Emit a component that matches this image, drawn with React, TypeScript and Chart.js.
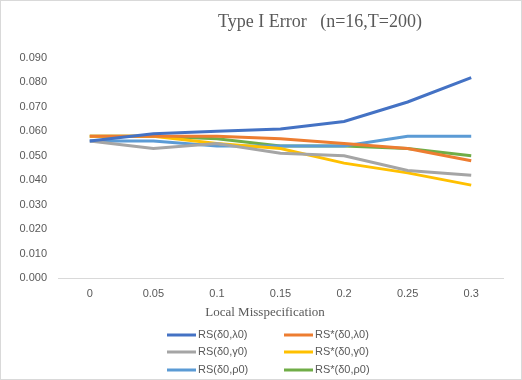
import React, { useEffect, useRef } from "react";
import { Chart, registerables } from "chart.js";

Chart.register(...registerables);

const chartTitle = "Type I Error   (n=16,T=200)";
const xAxisTitle = "Local Misspecification";
const categories = ["0", "0.05", "0.1", "0.15", "0.2", "0.25", "0.3"];
const yMin = 0;
const yMax = 0.09;
const yStep = 0.01;

const rsDeltaLambda = [0.056, 0.059, 0.060, 0.061, 0.064, 0.072, 0.082];
const rsStarDeltaLambda = [0.058, 0.058, 0.058, 0.057, 0.055, 0.053, 0.048];
const rsDeltaGamma = [0.056, 0.053, 0.055, 0.051, 0.050, 0.044, 0.042];
const rsStarDeltaGamma = [0.058, 0.058, 0.055, 0.053, 0.047, 0.043, 0.038];
const rsDeltaRho = [0.056, 0.056, 0.054, 0.054, 0.054, 0.058, 0.058];
const rsStarDeltaRho = [0.058, 0.058, 0.057, 0.054, 0.054, 0.053, 0.050];

const seriesLabels = [
  "RS(δ0,λ0)",
  "RS*(δ0,λ0)",
  "RS(δ0,γ0)",
  "RS*(δ0,γ0)",
  "RS(δ0,ρ0)",
  "RS*(δ0,ρ0)",
];
const seriesValues = [
  rsDeltaLambda,
  rsStarDeltaLambda,
  rsDeltaGamma,
  rsStarDeltaGamma,
  rsDeltaRho,
  rsStarDeltaRho,
];
const seriesColors = ["#4472C4", "#ED7D31", "#A5A5A5", "#FFC000", "#5B9BD5", "#70AD47"];

const W = 522;
const H = 380;
const TEXT = "#595959";
const SANS = "'Liberation Sans', Arial, sans-serif";
const SERIF = "'Liberation Serif', 'Times New Roman', serif";

const decorPlugin = {
  id: "decor",
  beforeDraw(chart: any) {
    const ctx = chart.ctx;
    ctx.save();
    ctx.fillStyle = "#ffffff";
    ctx.fillRect(0, 0, W, H);
    ctx.restore();
  },
  afterDraw(chart: any) {
    const ctx = chart.ctx;
    ctx.save();
    // border
    ctx.strokeStyle = "#d9d9d9";
    ctx.lineWidth = 1;
    ctx.strokeRect(0.5, 0.5, W - 1, H - 1);
    // title
    ctx.fillStyle = TEXT;
    ctx.textAlign = "center";
    ctx.textBaseline = "middle";
    ctx.font = `18px ${SERIF}`;
    ctx.fillText(chartTitle, 320, 22);
    // x axis title
    ctx.font = `13px ${SERIF}`;
    ctx.fillText(xAxisTitle, 265, 313);
    // legend
    ctx.font = `11px ${SANS}`;
    ctx.textAlign = "left";
    const colX = [167, 284];
    const rowY = [335, 352, 370];
    chart.data.datasets.forEach((ds: any, i: number) => {
      const x = colX[i % 2];
      const y = rowY[Math.floor(i / 2)];
      ctx.strokeStyle = ds.borderColor;
      ctx.lineWidth = 3;
      ctx.beginPath();
      ctx.moveTo(x, y);
      ctx.lineTo(x + 29, y);
      ctx.stroke();
      ctx.fillStyle = TEXT;
      ctx.fillText(ds.label, x + 31, y);
    });
    ctx.restore();
  },
};

export default function App() {
  const canvasRef = useRef<HTMLCanvasElement | null>(null);

  useEffect(() => {
    document.body.style.margin = "0";
    const canvas = canvasRef.current;
    if (!canvas) return;
    const chart = new Chart(canvas, {
      type: "line",
      data: {
        labels: categories,
        datasets: seriesValues.map((vals, i) => ({
          label: seriesLabels[i],
          data: vals,
          borderColor: seriesColors[i],
          backgroundColor: seriesColors[i],
          borderWidth: 3,
          pointRadius: 0,
          tension: 0,
          fill: false,
        })),
      },
      options: {
        responsive: false,
        animation: false,
        devicePixelRatio: 1,
        layout: { padding: { top: 58, right: 19, left: 0, bottom: 0 } },
        plugins: {
          legend: { display: false },
          title: { display: false },
          tooltip: { enabled: false },
        },
        scales: {
          x: {
            type: "category",
            offset: true,
            grid: { display: false, drawTicks: false },
            border: { display: true, color: "#d9d9d9", width: 1 },
            ticks: {
              color: TEXT,
              font: { family: SANS, size: 11 },
              padding: 9,
              maxRotation: 0,
              autoSkip: false,
            },
            afterFit: (scale: any) => {
              scale.height = 102;
            },
          },
          y: {
            min: yMin,
            max: yMax,
            grid: { display: false, drawTicks: false },
            border: { display: false },
            ticks: {
              stepSize: yStep,
              color: TEXT,
              font: { family: SANS, size: 11 },
              padding: 11,
              callback: (v: any) => Number(v).toFixed(3),
            },
            afterFit: (scale: any) => {
              scale.width = 58;
            },
          },
        },
      },
      plugins: [decorPlugin],
    });
    return () => chart.destroy();
  }, []);

  return (
    <div style={{ width: W, height: H }}>
      <canvas ref={canvasRef} width={W} height={H} style={{ display: "block" }} />
    </div>
  );
}
